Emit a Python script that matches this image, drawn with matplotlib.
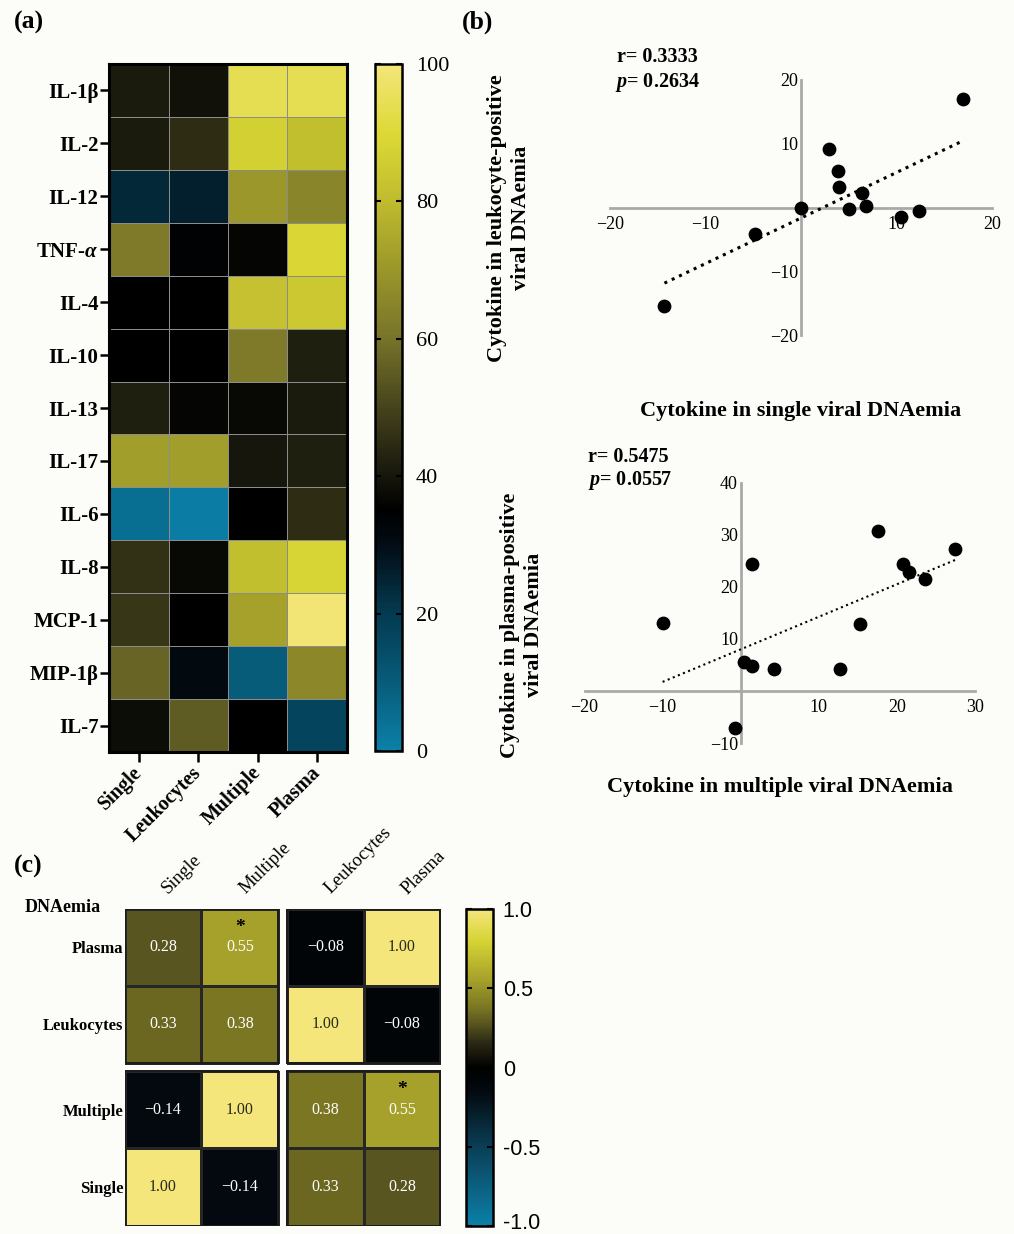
import numpy as np
import matplotlib
matplotlib.use("Agg")
import matplotlib.pyplot as plt
from matplotlib.colors import LinearSegmentedColormap, Normalize
from matplotlib.patches import Rectangle
from matplotlib.ticker import FixedLocator, FixedFormatter
from matplotlib.transforms import ScaledTranslation

plt.rcParams['font.family'] = ['Liberation Serif', 'DejaVu Serif']
plt.rcParams['mathtext.fontset'] = 'custom'
plt.rcParams['mathtext.rm'] = 'Liberation Serif:bold'
plt.rcParams['mathtext.it'] = 'Liberation Serif:italic:bold'
plt.rcParams['mathtext.bf'] = 'Liberation Serif:bold'
plt.rcParams['axes.unicode_minus'] = True

# ---------------- (a) cytokine heat map (0-100 scale) ----------------
cytokines = ["IL-1β", "IL-2", "IL-12", r"TNF-$\alpha$", "IL-4", "IL-10", "IL-13",
             "IL-17", "IL-6", "IL-8", "MCP-1", "MIP-1β", "IL-7"]
conditions = ["Single", "Leukocytes", "Multiple", "Plasma"]
single_vals = [41, 41, 24, 62, 35, 35, 42, 72, 5, 46, 47, 57, 38]
leukocyte_vals = [39, 45, 26, 34, 35, 35, 36, 72, 1, 37, 35, 31, 55]
multiple_vals = [94, 87, 70, 36, 82, 62, 37, 40, 35, 81, 73, 10, 35]
plasma_vals = [94, 81, 65, 89, 84, 42, 41, 42, 45, 88, 99, 66, 17]
heat_ticks = [0, 20, 40, 60, 80, 100]

# ---------------- (b) scatter data ----------------
single_x = [17.0, 2.95, 3.9, 4.0, 6.4, 0.0, 5.0, 6.8, 10.5, 12.4, -4.8, -14.3]
leukocyte_y = [17.0, 9.1, 5.7, 3.2, 2.2, 0.0, -0.2, 0.3, -1.5, -0.5, -4.1, -15.4]
multiple_x = [-10.0, -0.7, 0.44, 1.5, 1.4, 4.2, 12.7, 15.3, 17.6, 20.8, 21.6, 23.6, 27.5]
plasma_y = [13.05, -7.1, 5.6, 4.7, 24.4, 4.3, 4.3, 12.9, 30.7, 24.4, 22.8, 21.5, 27.3]
top_stats = ("r= 0.3333", "$p$= 0.2634")
bottom_stats = ("r= 0.5475", "$p$= 0.0557")
top_xticks = [-20, -10, 10, 20]
top_yticks = [-20, -10, 10, 20]
bottom_xticks = [-20, -10, 10, 20, 30]
bottom_yticks = [-10, 10, 20, 30, 40]

# ---------------- (c) correlation matrix ----------------
corr_cols = ["Single", "Multiple", "Leukocytes", "Plasma"]
corr_rows = ["Plasma", "Leukocytes", "Multiple", "Single"]
corr_plasma = [0.28, 0.55, -0.08, 1.00]
corr_leukocytes = [0.33, 0.38, 1.00, -0.08]
corr_multiple = [-0.14, 1.00, 0.38, 0.55]
corr_single = [1.00, -0.14, 0.33, 0.28]
significant = [(0, 1), (2, 3)]
corr_cbar_ticks = [-1.0, -0.5, 0.0, 0.5, 1.0]
corr_cbar_labels = ["-1.0", "-0.5", "0", "0.5", "1.0"]

# ---------------- colour maps ----------------
cmap_heat = LinearSegmentedColormap.from_list("heat", [
    (0.00, "#0b80a8"), (0.10, "#075b79"), (0.20, "#043a50"), (0.30, "#020c14"),
    (0.35, "#000000"), (0.40, "#16160c"), (0.50, "#45431c"), (0.60, "#77732a"),
    (0.70, "#9a962a"), (0.80, "#bfbb2e"), (0.90, "#dcd936"), (1.00, "#f4e67a")])
cmap_corr = LinearSegmentedColormap.from_list("corr", [
    (0.00, "#0b80a8"), (0.25, "#0a3e55"), (0.42, "#030a10"), (0.50, "#000000"),
    (0.58, "#2c2a14"), (0.64, "#5a5620"), (0.69, "#7a7622"), (0.775, "#a4a02a"),
    (0.90, "#d6d334"), (1.00, "#f4e67a")])

W, H = 1014, 1234
bg = "#fcfcf8"
fig = plt.figure(figsize=(W / 100, H / 100), dpi=100, facecolor=bg)


def px_axes(left, top, right, bottom):
    return fig.add_axes([left / W, 1 - bottom / H, (right - left) / W, (bottom - top) / H])


# ---------------- (a) ----------------
ax = px_axes(109, 64, 347, 752)
Z = np.array([single_vals, leukocyte_vals, multiple_vals, plasma_vals]).T
mesh = ax.pcolormesh(np.arange(5), np.arange(14), Z, cmap=cmap_heat,
                     norm=Normalize(0, 100), edgecolors="#8c8c8c", linewidth=0.6)
ax.set_xlim(0, 4)
ax.set_ylim(13, 0)
ax.set_xticks(np.arange(4) + 0.5)
ax.set_xticklabels(conditions, rotation=45, ha="right", va="center",
                   rotation_mode="anchor", fontweight="bold", fontsize=14.5)
ax.set_yticks(np.arange(13) + 0.5)
ax.set_yticklabels(cytokines, fontweight="bold", fontsize=15)
ax.tick_params(axis="x", length=7, width=1.8, pad=6)
ax.tick_params(axis="y", length=6.5, width=1.8, pad=1)
for sp in ax.spines.values():
    sp.set_linewidth(2.2)
    sp.set_color("black")

cax = px_axes(375, 64, 402, 751)
cb = fig.colorbar(mesh, cax=cax, ticks=heat_ticks)
cb.outline.set_linewidth(1.8)
cax.yaxis.set_ticks_position("both")
cax.tick_params(which="both", direction="in", length=4, width=1.5,
                labelleft=False, labelright=True, labelsize=16, pad=10)

# ---------------- (b) ----------------
def crossed_scatter(ax, x, y, xlim, ylim, xticks, yticks, dot_lw):
    x = np.asarray(x)
    y = np.asarray(y)
    ax.set_facecolor("none")
    ax.set_xlim(*xlim)
    ax.set_ylim(*ylim)
    for side in ("top", "right"):
        ax.spines[side].set_visible(False)
    for side in ("left", "bottom"):
        ax.spines[side].set_position(("data", 0))
        ax.spines[side].set_color("#a9a9a9")
        ax.spines[side].set_linewidth(2.0)
        ax.spines[side].set_zorder(1)
    ax.set_xticks(xticks)
    ax.set_yticks(yticks)
    ax.tick_params(axis="both", length=0, labelsize=13)
    ax.tick_params(axis="x", pad=6)
    ax.tick_params(axis="y", pad=2)
    coef = np.polyfit(x, y, 1)
    xx = np.array([x.min(), x.max()])
    ax.plot(xx, np.polyval(coef, xx), color="black", lw=dot_lw, ls=":", zorder=2)
    ax.scatter(x, y, s=80, color="black", zorder=4, clip_on=False)


ax_t = px_axes(610, 80, 992, 335)
crossed_scatter(ax_t, single_x, leukocyte_y, (-20, 20), (-20, 20),
                top_xticks, top_yticks, 2.2)
ax_b = px_axes(584.5, 482.7, 975, 743)
crossed_scatter(ax_b, multiple_x, plasma_y, (-20, 30), (-10, 40),
                bottom_xticks, bottom_yticks, 1.5)

fig.text(617 / W, 1 - 57 / H, top_stats[0], fontweight="bold", fontsize=14.5, va="center")
fig.text(615 / W, 1 - 82 / H, top_stats[1], fontweight="bold", fontsize=14.5, va="center")
fig.text(588 / W, 1 - 457 / H, bottom_stats[0], fontweight="bold", fontsize=14.5, va="center")
fig.text(588 / W, 1 - 481 / H, bottom_stats[1], fontweight="bold", fontsize=14.5, va="center")

fig.text(509 / W, 1 - 218 / H, "Cytokine in leukocyte-positive\nviral DNAemia",
         rotation=90, ha="center", va="center", multialignment="center",
         fontweight="bold", fontsize=16, linespacing=1.25)
fig.text(801 / W, 1 - 411 / H, "Cytokine in single viral DNAemia",
         ha="center", va="center", fontweight="bold", fontsize=16)
fig.text(522 / W, 1 - 625 / H, "Cytokine in plasma-positive\nviral DNAemia",
         rotation=90, ha="center", va="center", multialignment="center",
         fontweight="bold", fontsize=16, linespacing=1.25)
fig.text(780 / W, 1 - 787 / H, "Cytokine in multiple viral DNAemia",
         ha="center", va="center", fontweight="bold", fontsize=16)

# ---------------- (c) ----------------
corr = np.array([corr_plasma, corr_leukocytes, corr_multiple, corr_single])
gap = 0.11
axc = px_axes(124.5, 908.5, 440.5, 1225.5)
axc.set_facecolor("none")
corr_norm = Normalize(-1, 1)
cmesh = None
for bi in (0, 1):
    for bj in (0, 1):
        xe = np.arange(3) + bj * (2 + gap)
        ye = np.arange(3) + bi * (2 + gap)
        block = corr[2 * bi:2 * bi + 2, 2 * bj:2 * bj + 2]
        cmesh = axc.pcolormesh(xe, ye, block, cmap=cmap_corr, norm=corr_norm,
                               edgecolors="#262626", linewidth=0.8)
        axc.add_patch(Rectangle((xe[0], ye[0]), 2, 2, fill=False,
                                ec="#1c1c1c", lw=1.4, zorder=3))
axc.set_xlim(0, 4 + gap)
axc.set_ylim(4 + gap, 0)
for sp in axc.spines.values():
    sp.set_visible(False)


def centre(k):
    return k + 0.5 + (gap if k >= 2 else 0)


for i in range(4):
    for j in range(4):
        v = corr[i, j]
        txt_color = "#2a2a1c" if v > 0.9 else "white"
        axc.text(centre(j), centre(i), f"{v:.2f}".replace("-", "\u2212"),
                 ha="center", va="center", color=txt_color, fontsize=11.5)
for i, j in significant:
    axc.text(centre(j), centre(i) - 0.26, "*", ha="center", va="center",
             color="black", fontsize=14, fontweight="bold")

axc.set_xticks([])
axc.set_yticks([centre(i) for i in range(4)])
axc.set_yticklabels(corr_rows, fontweight="bold", fontsize=12)
axc.tick_params(axis="y", length=0, pad=1)
for j, lab in enumerate(corr_cols):
    axc.text(centre(j) + 0.07, -0.18, lab, rotation=45, ha="left", va="baseline",
             rotation_mode="anchor", fontsize=13.5)
fig.text(25 / W, 1 - 908 / H, "DNAemia", fontweight="bold", fontsize=13, va="center")

caxc = px_axes(466, 909, 493, 1226)
cbc = fig.colorbar(cmesh, cax=caxc)
cbc.outline.set_linewidth(1.8)
caxc.yaxis.set_major_locator(FixedLocator(corr_cbar_ticks))
caxc.yaxis.set_major_formatter(FixedFormatter(corr_cbar_labels))
caxc.yaxis.set_ticks_position("both")
caxc.tick_params(which="both", direction="in", length=4, width=1.5,
                 labelleft=False, labelright=True, pad=7)
for tick in caxc.yaxis.get_major_ticks():
    tick.label2.set_fontfamily(["Liberation Sans", "DejaVu Sans"])
    tick.label2.set_fontsize(15.5)
# keep the lowest label inside the canvas
low_label = caxc.yaxis.get_major_ticks()[0].label2
low_label.set_transform(low_label.get_transform()
                        + ScaledTranslation(0, 5 / 100, fig.dpi_scale_trans))

# ---------------- panel letters ----------------
for x, y, s in [(14, 22, "(a)"), (462, 22, "(b)"), (14, 866, "(c)")]:
    fig.text(x / W, 1 - y / H, s, fontweight="bold", fontsize=18.5, va="center")

fig.savefig("out.png", dpi=100, facecolor=bg)
